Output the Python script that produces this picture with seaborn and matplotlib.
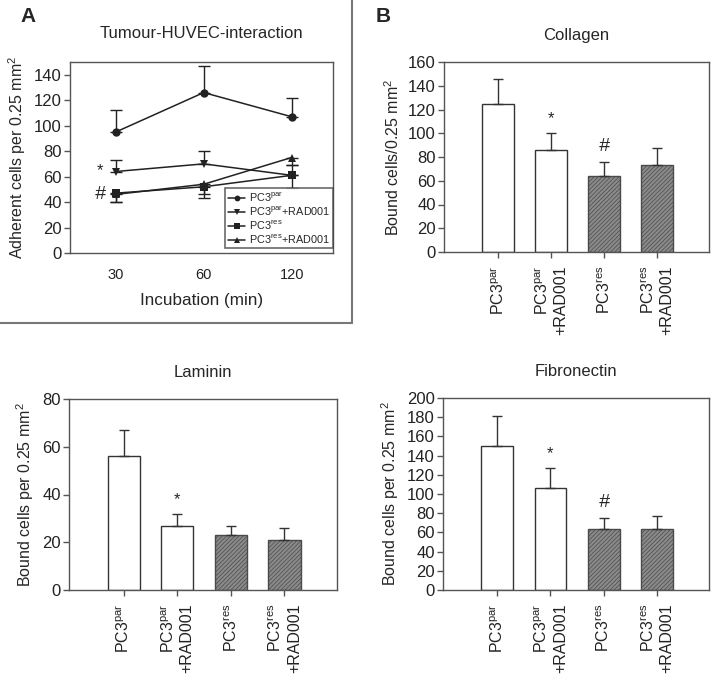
import numpy as np
import pandas as pd
import matplotlib as mpl
from matplotlib import pyplot as plt
import seaborn as sns

sns.set_theme(style='ticks')
plt.rcParams['font.family'] = ['Liberation Sans', 'DejaVu Sans']
plt.rcParams['mathtext.fontset'] = 'custom'
plt.rcParams['mathtext.rm'] = 'Liberation Sans'
plt.rcParams['mathtext.it'] = 'Liberation Sans'
plt.rcParams['hatch.linewidth'] = 0.5

# panel A data
times = ['30', '60', '120']
groups = ['PC3$^{\\mathrm{par}}$', 'PC3$^{\\mathrm{par}}$+RAD001',
          'PC3$^{\\mathrm{res}}$', 'PC3$^{\\mathrm{res}}$+RAD001']
par = [95, 126, 107]
par_err = [17, 21, 15]
par_rad = [64, 70, 61]
par_rad_err = [9, 10, 8]
res = [47, 52, 61]
res_err = [7, 6, 10]
res_rad = [46, 54, 75]
res_rad_err = [6, 11, 6]
err_up = [True, True, False, False]

# panel B data
cell_labels = ['PC3$^{\\mathrm{par}}$', 'PC3$^{\\mathrm{par}}$\n+RAD001',
               'PC3$^{\\mathrm{res}}$', 'PC3$^{\\mathrm{res}}$\n+RAD001']
collagen = [125, 86, 64, 73]
collagen_err = [21, 14, 12, 15]
laminin = [56, 27, 23, 21]
laminin_err = [11, 5, 4, 5]
fibronectin = [150, 106, 64, 64]
fibronectin_err = [31, 21, 11, 13]

W, H = 712, 681
fig = plt.figure(figsize=(W / 100, H / 100), dpi=100)


def px_axes(l, t, r, b):
    return fig.add_axes([l / W, 1 - b / H, (r - l) / W, (b - t) / H])


def style_ax(ax):
    for s in ax.spines.values():
        s.set_visible(True)
        s.set_color('#555555')
        s.set_linewidth(1.0)
    ax.tick_params(direction='out', length=4, width=1, color='#555555',
                   labelsize=12, labelcolor='#222222', pad=2)


# ---------------- panel A
ax = px_axes(70, 62, 333, 253)
series = [par, par_rad, res, res_rad]
errs = [par_err, par_rad_err, res_err, res_rad_err]
df = pd.DataFrame([{'pos': i, 'value': v, 'group': g}
                   for g, vals in zip(groups, series) for i, v in enumerate(vals)])
markers = ['o', 'v', 's', '^']
sns.lineplot(data=df, x='pos', y='value', hue='group', style='group',
             hue_order=groups, style_order=groups, markers=markers, dashes=False,
             palette=['#222222'] * 4, markersize=6, markeredgewidth=0,
             linewidth=1.1, ax=ax)
for vals, e, up in zip(series, errs, err_up):
    yerr = [np.zeros(len(e)), e] if up else [e, np.zeros(len(e))]
    ax.errorbar(range(len(vals)), vals, yerr=yerr, fmt='none', ecolor='#222222',
                elinewidth=1, capsize=4, capthick=1)
ax.set_xlim(-0.52, 2.47)
ax.set_ylim(0, 150)
ax.set_yticks(range(0, 141, 20))
ax.set_xticks(range(len(times)))
ax.set_xticklabels(times)
ax.set_xlabel('Incubation (min)', fontsize=12.3, labelpad=8)
ax.set_ylabel('Adherent cells per 0.25 mm$^2$', fontsize=11.5, labelpad=4)
ax.set_title('Tumour-HUVEC-interaction', fontsize=12, pad=17)
style_ax(ax)
ax.tick_params(axis='x', length=0, pad=11, labelsize=10.5)
leg = ax.legend(loc='lower right', bbox_to_anchor=(1.0, 0.025), fontsize=7.8,
                frameon=True, fancybox=False, handlelength=1.6, handletextpad=0.3,
                borderpad=0.25, labelspacing=0.08, borderaxespad=0,
                markerscale=0.7)
leg.get_frame().set_edgecolor('#444444')
leg.get_frame().set_linewidth(1.2)
ax.text(-0.18, 65, '*', fontsize=12, ha='center', va='center')
ax.text(-0.18, 46, '#', fontsize=14, ha='center', va='center', style='italic')

# frame around panel A
fig.add_artist(mpl.lines.Line2D([0, 352 / W], [1 - 323 / H, 1 - 323 / H],
                                transform=fig.transFigure, color='#777777', lw=1.5))
fig.add_artist(mpl.lines.Line2D([352 / W, 352 / W], [1, 1 - 323 / H],
                                transform=fig.transFigure, color='#777777', lw=1.5))


# ---------------- bar panels
def bar_panel(box, vals, err, title, ylabel, ymax, ystep, marks):
    ax = px_axes(*box)
    sns.barplot(x=list(range(len(vals))), y=vals, hue=list(range(len(vals))),
                palette=['white', 'white', '#8a8a8a', '#8a8a8a'], legend=False,
                edgecolor='#333333', linewidth=1, width=0.6, ax=ax)
    for i, p in enumerate(ax.patches):
        if i >= 2:
            p.set_hatch('////////')
            p.set_edgecolor('#4a4a4a')
    ax.errorbar(range(len(vals)), vals, yerr=[np.zeros(len(err)), err], fmt='none',
                ecolor='#333333', elinewidth=1, capsize=3.5, capthick=1)
    for i, m in marks:
        top = vals[i] + err[i] + ymax * 0.035
        ax.text(i, top, m, ha='center', va='bottom',
                fontsize=12 if m == '*' else 14, style='italic' if m == '#' else 'normal')
    ax.set_xlim(-1.02, 3.98)
    ax.set_ylim(0, ymax)
    ax.set_yticks(np.arange(0, ymax + 1, ystep))
    ax.set_xticks(range(len(vals)))
    ax.set_xticklabels(cell_labels, rotation=90, multialignment='right')
    ax.set_xlabel('')
    ax.set_ylabel(ylabel, fontsize=11.5, labelpad=4)
    ax.set_title(title, fontsize=12, pad=16)
    style_ax(ax)
    ax.tick_params(axis='x', labelsize=11.5, pad=6)
    return ax


bar_panel((444, 62, 709, 252), collagen, collagen_err, 'Collagen',
          'Bound cells/0.25 mm$^2$', 160, 20, [(1, '*'), (2, '#')])
bar_panel((69, 399, 337, 590), laminin, laminin_err, 'Laminin',
          'Bound cells per 0.25 mm$^2$', 80, 20, [(1, '*')])
bar_panel((443, 398, 709, 590), fibronectin, fibronectin_err, 'Fibronectin',
          'Bound cells per 0.25 mm$^2$', 200, 20, [(1, '*'), (2, '#')])

fig.text(20 / W, 1 - 16 / H, 'A', fontsize=15, fontweight='bold', va='center')
fig.text(376 / W, 1 - 16 / H, 'B', fontsize=15, fontweight='bold', va='center')

fig.savefig('out.png', dpi=100)
